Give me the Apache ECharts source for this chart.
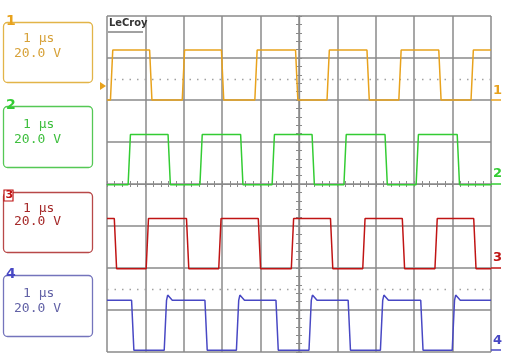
<!DOCTYPE html>
<html><head><meta charset="utf-8">
<script src="https://cdn.jsdelivr.net/npm/echarts@6/dist/echarts.min.js"></script>
<style>html,body{margin:0;padding:0;background:#fff}#c{width:508px;height:364px}</style>
</head><body><div id="c"></div>
<script>
// Time (µs, 0 = screen centre) of every switching edge, per channel
const ch1Edges = [-4.88, -3.86, -3.01, -1.99, -1.12, -0.06, 0.76, 1.80, 2.63, 3.67, 4.51];
const ch2Edges = [-4.42, -3.38, -2.55, -1.49, -0.67, 0.37, 1.20, 2.27, 3.08, 4.15];
const ch3Edges = [-4.78, -3.95, -2.90, -2.06, -1.03, -0.17, 0.85, 1.69, 2.72, 3.57, 4.58];
const ch4Edges = [-4.33, -3.48, -2.42, -1.60, -0.57, 0.29, 1.31, 2.15, 3.20, 4.02];
// state at left edge of screen (true = high)
const startHigh = [false, false, true, true];
// high level in volts, ground offset in divisions, overshoot at rising edges (V)
const highVolts = [23.8, 24.0, 24.0, 23.8];
const offsetDiv = [2.0, -0.02, -2.02, -3.96];
const overshootV = [0, 0, 0, 2.5];
const labels = ['1', '2', '3', '4'];
const timeDiv = '1 µs';
const voltDiv = '20.0 V';
const VOLTS_PER_DIV = 20;
const EDGE = 0.06;

const colors = ['#e8a21c', '#33cc33', '#c01414', '#4848c4'];
const boxBorder = ['#e2b448', '#55c855', '#b84848', '#7474bc'];
const boxText = ['#d7a23a', '#3fbf3f', '#a52a2a', '#6262a6'];

function wave(edges, hi0, highV, off, spike) {
  const lv = h => off + (h ? highV : 0) / VOLTS_PER_DIV;
  let high = hi0;
  const pts = [[-5, lv(high)]];
  edges.forEach(t => {
    pts.push([t - EDGE / 2, lv(high)]);
    high = !high;
    pts.push([t + EDGE / 2, lv(high)]);
    if (high && spike) {
      pts.push([t + EDGE, off + (highV + spike) / VOLTS_PER_DIV]);
      pts.push([t + EDGE * 3, lv(high)]);
    }
  });
  pts.push([5, lv(high)]);
  return pts;
}
const allEdges = [ch1Edges, ch2Edges, ch3Edges, ch4Edges];

const grid = '#8a8a8a';
const series = allEdges.map((e, i) => ({
  type: 'line', name: 'CH' + labels[i], showSymbol: false, silent: true,
  data: wave(e, startHigh[i], highVolts[i], offsetDiv[i], overshootV[i]),
  lineStyle: { color: colors[i], width: 1.5 }, z: 5
}));
series[0].markLine = { silent: true, symbol: 'none', label: { show: false },
  lineStyle: { color: '#a0a0a0', type: [1.5, 6], width: 1.3 }, data: [{ yAxis: 2.5 }] };
series[3].markLine = { silent: true, symbol: 'none', label: { show: false },
  lineStyle: { color: '#a0a0a0', type: [1.5, 6], width: 1.3 }, data: [{ yAxis: -2.5 }] };

function xAx(inside, main) {
  return { type: 'value', min: -5, max: 5, interval: 1, position: 'bottom',
    axisLine: { show: true, onZero: true, lineStyle: { color: grid, width: 1.2 } },
    axisTick: { show: true, inside: inside, length: 3, lineStyle: { color: grid } },
    minorTick: { show: true, splitNumber: 5, length: 3, lineStyle: { color: grid } },
    axisLabel: { show: false },
    splitLine: { show: main, lineStyle: { color: grid, width: 1.5 } } };
}
function yAx(inside, main) {
  return { type: 'value', min: -4, max: 4, interval: 1, position: 'left',
    axisLine: { show: true, onZero: true, lineStyle: { color: grid, width: 1.2 } },
    axisTick: { show: true, inside: inside, length: 3, lineStyle: { color: grid } },
    minorTick: { show: true, splitNumber: 5, length: 3, lineStyle: { color: grid } },
    axisLabel: { show: false },
    splitLine: { show: main, lineStyle: { color: grid, width: 1.5 } } };
}

const graphic = [];
const boxTop = [22, 106, 192, 275];
const boxH = [60, 61, 60, 61];
const txtOff = [[10, 25], [12, 27], [10, 23], [12, 27]];
boxTop.forEach((top, i) => {
  graphic.push({ type: 'rect', shape: { x: 3.5, y: top + 0.5, width: 89, height: boxH[i], r: 4 },
    style: { fill: '#fff', stroke: boxBorder[i], lineWidth: 1.3 }, z: 10 });
  graphic.push({ type: 'text', x: 23, y: top + txtOff[i][0],
    style: { text: timeDiv, font: '13px "DejaVu Sans Mono"', fill: boxText[i] }, z: 11 });
  graphic.push({ type: 'text', x: 14, y: top + txtOff[i][1],
    style: { text: voltDiv, font: '13px "DejaVu Sans Mono"', fill: boxText[i] }, z: 11 });
  if (i === 2) {
    graphic.push({ type: 'rect', shape: { x: 4, y: top - 2, width: 9, height: 11 },
      style: { fill: '#fff', stroke: colors[i], lineWidth: 1.2 }, z: 12 });
    graphic.push({ type: 'text', x: 5.5, y: top - 2,
      style: { text: labels[i], font: 'bold 11px "DejaVu Sans"', fill: colors[i] }, z: 13 });
  } else {
    graphic.push({ type: 'text', x: 6, y: top - 8,
      style: { text: labels[i], font: 'bold 14px "DejaVu Sans"', fill: colors[i] }, z: 12 });
  }
});
// right-hand ground markers
const markTop = [84, 167, 251, 334];
const markLine = [100, 184, 268, 350];
markTop.forEach((y, i) => {
  graphic.push({ type: 'text', x: 493, y: y,
    style: { text: labels[i], font: 'bold 13px "DejaVu Sans"', fill: colors[i] }, z: 12 });
  graphic.push({ type: 'line', shape: { x1: 491, y1: markLine[i], x2: 501, y2: markLine[i] },
    style: { stroke: colors[i], lineWidth: 1.5 }, z: 12 });
});
// trigger arrow
graphic.push({ type: 'polygon', shape: { points: [[100, 82], [106, 86], [100, 90]] },
  style: { fill: colors[0] }, z: 12 });
// LeCroy logo
graphic.push({ type: 'rect', shape: { x: 108, y: 17, width: 36, height: 15 }, style: { fill: '#fff' }, z: 8 });
graphic.push({ type: 'text', x: 109, y: 18,
  style: { text: 'LeCroy', font: 'bold 11px "DejaVu Sans Condensed"', fill: '#333' }, z: 9 });
graphic.push({ type: 'line', shape: { x1: 108, y1: 32, x2: 143, y2: 32 },
  style: { stroke: '#444', lineWidth: 1 }, z: 9 });

const chart = echarts.init(document.getElementById('c'), null, { renderer: 'canvas' });
chart.setOption({
  animation: false,
  backgroundColor: '#fff',
  grid: { left: 107, top: 16, width: 384, height: 336, show: false },
  xAxis: [xAx(false, true), xAx(true, false)],
  yAxis: [yAx(false, true), yAx(true, false)],
  series: series,
  graphic: graphic
});
</script></body></html>
